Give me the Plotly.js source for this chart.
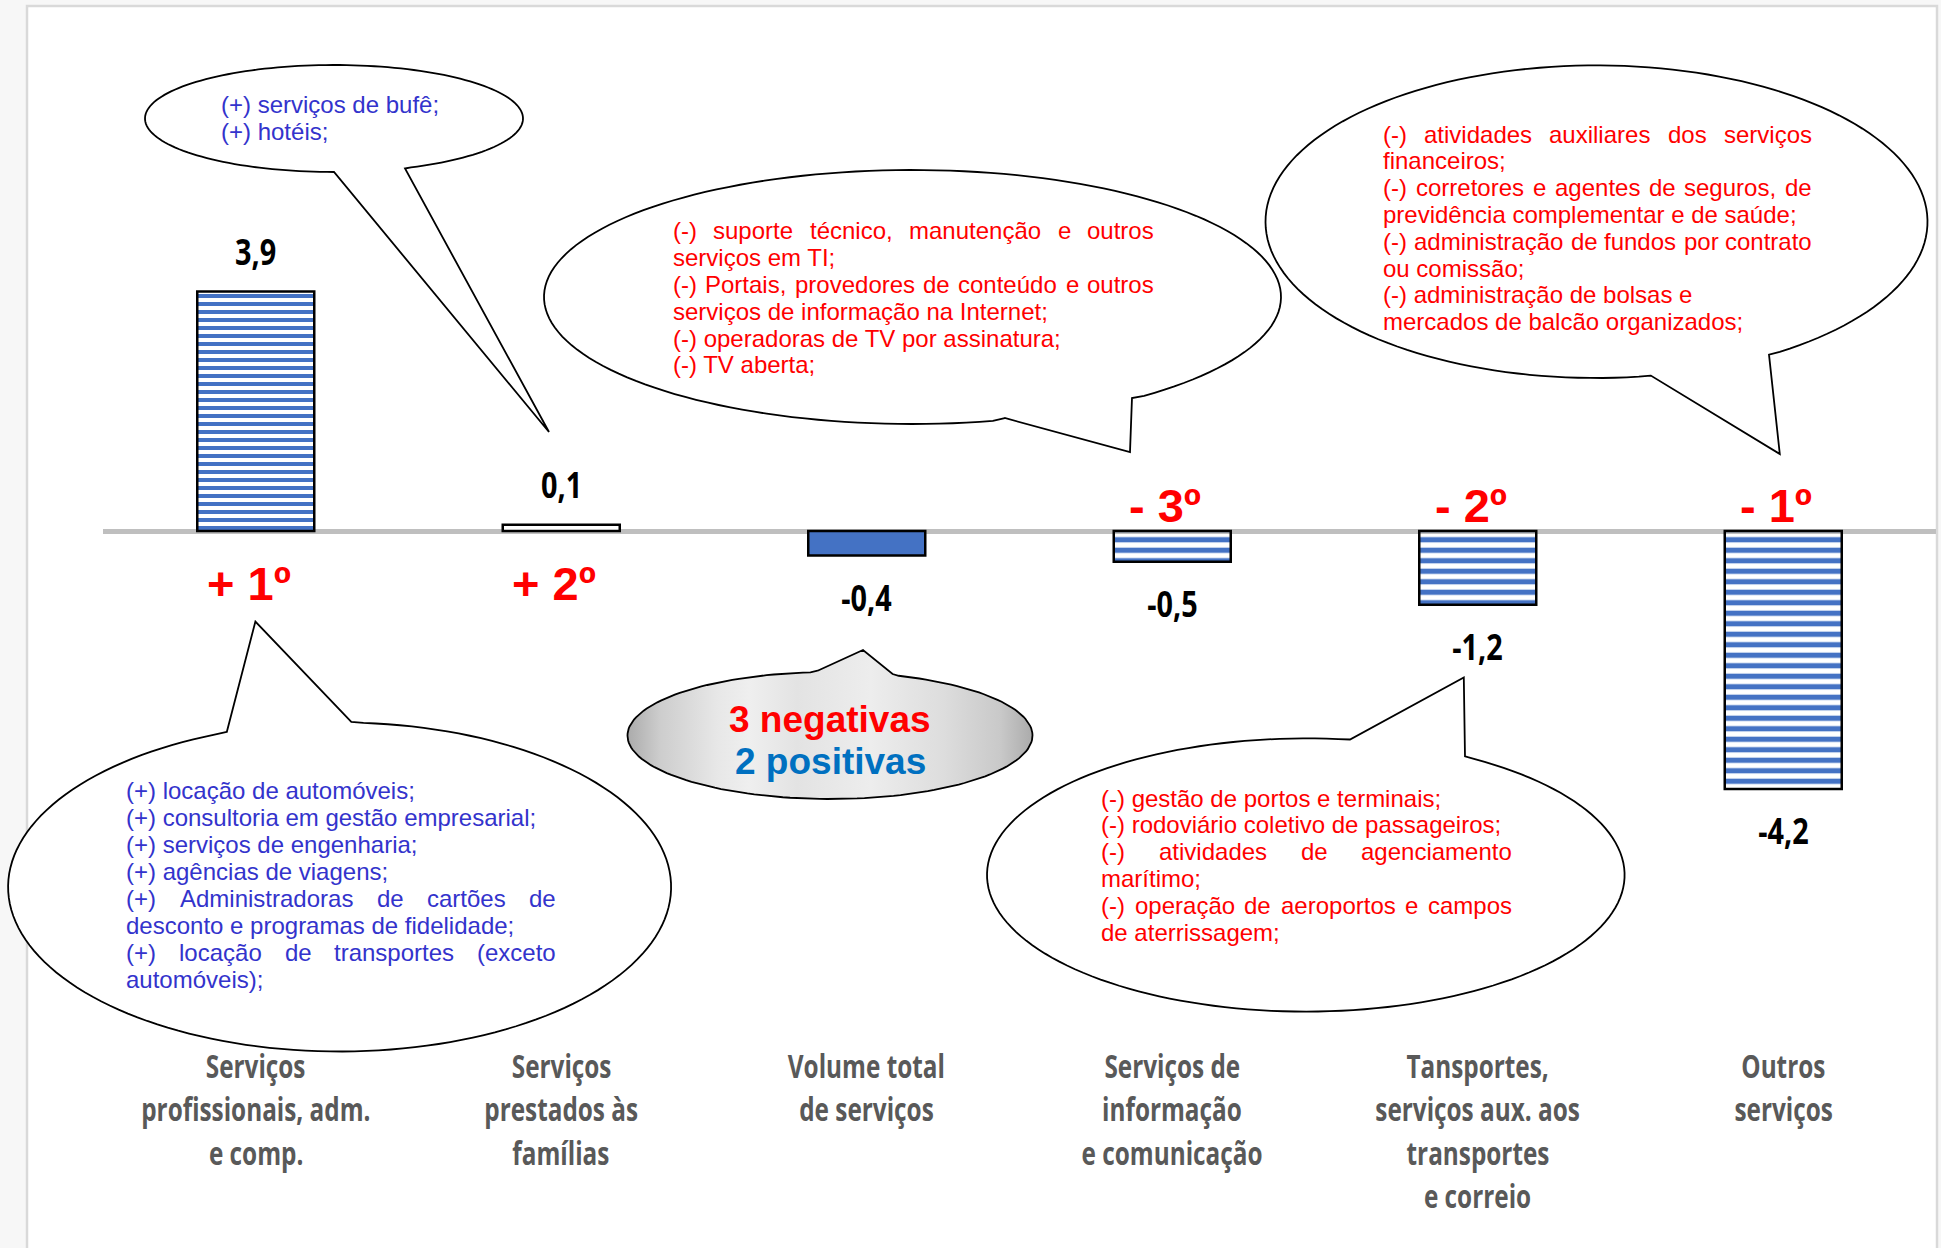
<!DOCTYPE html>
<html>
<head>
<meta charset="utf-8">
<script src="https://cdn.plot.ly/plotly-3.0.1.min.js"></script>
<style>
  html, body { margin: 0; padding: 0; background: #f7f7f7; }
  #chart { width: 1941px; height: 1248px; }
</style>
</head>
<body>
<div id="chart"></div>
<script>
// data
var categories = [
    'Serviços<br>profissionais, adm.<br>e comp.',
    'Serviços<br>prestados às<br>famílias',
    'Volume total<br>de serviços',
    'Serviços de<br>informação<br>e comunicação',
    'Tansportes,<br>serviços aux. aos<br>transportes<br>e correio',
    'Outros<br>serviços'
];
var values = [3.9, 0.1, -0.4, -0.5, -1.2, -4.2];
var ranks = ['+ 1º', '+ 2º', '', '- 3º', '- 2º', '- 1º'];

var notesBufe = ['(+) serviços de bufê;', '(+) hotéis;'];
var notesInfo = [
    '(-) suporte técnico, manutenção e outros',
    'serviços em TI;',
    '(-) Portais, provedores de conteúdo e outros',
    'serviços de informação na Internet;',
    '(-) operadoras de TV por assinatura;',
    '(-) TV aberta;'
];
var notesOutros = [
    '(-) atividades auxiliares dos serviços',
    'financeiros;',
    '(-) corretores e agentes de seguros, de',
    'previdência complementar e de saúde;',
    '(-) administração de fundos por contrato',
    'ou comissão;',
    '(-) administração de bolsas e',
    'mercados de balcão organizados;'
];
var notesProf = [
    '(+) locação de automóveis;',
    '(+) consultoria em gestão empresarial;',
    '(+) serviços de engenharia;',
    '(+) agências de viagens;',
    '(+) Administradoras de cartões de',
    'desconto e programas de fidelidade;',
    '(+) locação de transportes (exceto',
    'automóveis);'
];
var notesTransp = [
    '(-) gestão de portos e terminais;',
    '(-) rodoviário coletivo de passageiros;',
    '(-) atividades de agenciamento',
    'marítimo;',
    '(-) operação de aeroportos e campos',
    'de aterrissagem;'
];
var summary = ['3 negativas', '2 positivas'];

// plot box in page pixels
var L = 103, T = 20, W = 1833, H = 1030;
var zeroPx = 531, pxPerUnit = 61.4;
var yTop = (zeroPx - T) / pxPerUnit;
var yBot = -(T + H - zeroPx) / pxPerUnit;

function px2x(px) { return (px - L) / W; }
function py2y(py) { return (T + H - py) / H; }

var condensed = 'Open Sans, Liberation Sans, sans-serif';
var arial = 'Liberation Sans, Arial, sans-serif';
var BLUE_TXT = '#3333CC', RED = '#FF0000';

var annotations = [];
var shapes = [];
var squeeze = {};   // annotation index -> horizontal squeeze factor

// frame
shapes.push({
    type: 'rect', xref: 'paper', yref: 'paper', layer: 'below',
    x0: px2x(27), x1: px2x(1937), y0: py2y(6), y1: py2y(1320),
    fillcolor: 'white', line: {color: '#D9D9D9', width: 2.5}
});

// category labels, one annotation per line
categories.forEach(function (c, i) {
    c.split('<br>').forEach(function (line, k) {
        squeeze[annotations.length] = 0.76;
        annotations.push({
            x: i, xref: 'x', y: py2y(1065 + 43.5 * k), yref: 'paper',
            text: line, showarrow: false, xanchor: 'center', yanchor: 'middle',
            font: {family: condensed, size: 32, color: '#595959', weight: 'bold'}
        });
    });
});

// value labels and ranks
values.forEach(function (v, i) {
    squeeze[annotations.length] = 0.8;
    annotations.push({
        x: i, xref: 'x', y: v, yref: 'y',
        text: v.toFixed(1).replace('.', ','), showarrow: false,
        xanchor: 'center', yanchor: 'middle', yshift: v >= 0 ? 40 : -42,
        font: {family: condensed, size: 36, color: '#000', weight: 'bold'}
    });
    if (ranks[i]) {
        annotations.push({
            x: i, xref: 'x', y: 0, yref: 'y', xshift: -7,
            text: ranks[i], showarrow: false,
            xanchor: 'center', yanchor: 'middle', yshift: v >= 0 ? -52 : 26,
            font: {family: arial, size: 47, color: RED, weight: 'bold'}
        });
    }
});

// bubble text, justified lines split into words
var ctx = document.createElement('canvas').getContext('2d');
ctx.font = '24px "Liberation Sans"';
function textBlock(lines, just, left, width, top, step, color) {
    lines.forEach(function (line, k) {
        var y = py2y(top + step * k);
        var font = {family: arial, size: 24, color: color};
        if (just.indexOf(k) < 0) {
            annotations.push({x: px2x(left), xref: 'paper', y: y, yref: 'paper', text: line,
                showarrow: false, xanchor: 'left', yanchor: 'middle', borderpad: 0, font: font});
            return;
        }
        var words = line.split(' ');
        var ws = words.map(function (w) { return ctx.measureText(w).width; });
        var total = ws.reduce(function (a, b) { return a + b; }, 0);
        var gap = (width - total) / (words.length - 1);
        var x = left;
        words.forEach(function (w, i) {
            annotations.push({x: px2x(x), xref: 'paper', y: y, yref: 'paper', text: w,
                showarrow: false, xanchor: 'left', yanchor: 'middle', borderpad: 0, font: font});
            x += ws[i] + gap;
        });
    });
}
textBlock(notesBufe, [], 220, 220, 104, 27, BLUE_TXT);
textBlock(notesInfo, [0, 2], 672, 481, 231, 26.8, RED);
textBlock(notesOutros, [0, 2, 4], 1382, 429, 134, 26.8, RED);
textBlock(notesProf, [4, 6], 125, 430, 790, 27, BLUE_TXT);
textBlock(notesTransp, [2, 4], 1100, 411, 798, 26.8, RED);

// speech bubbles: ellipse + tail, in page pixels
function bubblePoints(b) {
    var ang = function (p) { return Math.atan2((p[1] - b.cy) / b.ry, (p[0] - b.cx) / b.rx); };
    var norm = function (a) { a = a % (2 * Math.PI); return a < 0 ? a + 2 * Math.PI : a; };
    var a1 = ang(b.a), a2 = ang(b.b), at = ang(b.tip);
    var ccw = norm(a2 - a1);
    var span = norm(at - a1) < ccw ? -(2 * Math.PI - ccw) : ccw;
    var pts = [b.a];
    var n = 160;
    for (var i = 1; i < n; i++) {
        var t = a1 + span * i / n;
        pts.push([b.cx + b.rx * Math.cos(t), b.cy + b.ry * Math.sin(t)]);
    }
    pts.push(b.b, b.tip);
    return pts;
}
var bubbles = [
    {cx: 334, cy: 118.5, rx: 189, ry: 53.5, a: [334, 172], b: [405, 168.5], tip: [549, 432]},
    {cx: 912.5, cy: 297, rx: 368.5, ry: 127, a: [1004.7, 418], b: [1132, 398], tip: [1130, 452]},
    {cx: 1596.5, cy: 221.7, rx: 331, ry: 156.3, a: [1650.8, 375.6], b: [1769, 354.6], tip: [1779.8, 454]},
    {cx: 339.6, cy: 887, rx: 331.5, ry: 164.5, a: [226.8, 731.9], b: [351.3, 722], tip: [255.4, 621.6]},
    {cx: 1305.8, cy: 875, rx: 318.8, ry: 136.6, a: [1350, 739.5], b: [1465, 756.4], tip: [1463.8, 677.4]}
];
bubbles.forEach(function (b) {
    var pts = bubblePoints(b);
    var path = 'M' + pts.map(function (p) {
        return px2x(p[0]).toFixed(5) + ',' + py2y(p[1]).toFixed(5);
    }).join('L') + 'Z';
    shapes.push({type: 'path', xref: 'paper', yref: 'paper', layer: 'above', path: path,
        fillcolor: 'white', line: {color: 'black', width: 1.8}});
});

// gray summary bubble with gradient fill, drawn on a pixel overlay axis
var gray = bubblePoints({cx: 830, cy: 735.5, rx: 202.5, ry: 63.5, a: [817.6, 670.7], b: [892.6, 674], tip: [863, 650]});
gray.push(gray[0]);
var grayTrace = {
    type: 'scatter', mode: 'lines', xaxis: 'x2', yaxis: 'y2',
    x: gray.map(function (p) { return p[0]; }),
    y: gray.map(function (p) { return p[1]; }),
    fill: 'toself', hoverinfo: 'skip', showlegend: false,
    line: {color: 'black', width: 1.8},
    fillgradient: {type: 'horizontal', colorscale: [
        [0, '#ababab'], [0.08, '#cdcdcd'], [0.22, '#e7e7e7'], [0.3, '#efefef'],
        [0.42, '#e3e3e3'], [0.6, '#ededed'], [0.78, '#dddddd'], [0.92, '#c9c9c9'], [1, '#ababab']
    ]}
};
annotations.push({x: px2x(830), xref: 'paper', y: py2y(719), yref: 'paper', text: summary[0],
    showarrow: false, xanchor: 'center', yanchor: 'middle',
    font: {family: arial, size: 37, color: RED, weight: 'bold'}});
annotations.push({x: px2x(830), xref: 'paper', y: py2y(761), yref: 'paper', text: summary[1],
    showarrow: false, xanchor: 'center', yanchor: 'middle',
    font: {family: arial, size: 37, color: '#0070C0', weight: 'bold'}});

var STRIPE = '#4472C4';
var barTrace = {
    type: 'bar', x: categories, y: values, width: 0.383, hoverinfo: 'skip', showlegend: false,
    marker: {
        color: [STRIPE, '#FFFFFF', STRIPE, STRIPE, STRIPE, STRIPE],
        line: {color: '#000000', width: 2.5},
        pattern: {
            shape: ['-', '', '', '-', '-', '-'],
            fillmode: 'replace',
            fgcolor: [STRIPE, '#FFFFFF', STRIPE, STRIPE, STRIPE, STRIPE],
            bgcolor: ['#DAE3F3', '#FFFFFF', STRIPE, '#FFFFFF', '#FFFFFF', '#DAE3F3'],
            fgopacity: 1,
            size: [8, 8, 8, 10.5, 10.5, 10.5], solidity: 0.5
        }
    }
};

var layout = {
    width: 1941, height: 1248,
    margin: {l: L, r: 1941 - L - W, t: T, b: 1248 - T - H},
    paper_bgcolor: '#F7F7F7', plot_bgcolor: 'rgba(0,0,0,0)',
    showlegend: false,
    xaxis: {range: [-0.5, 5.5], showticklabels: false, showgrid: false, zeroline: false,
        showline: false, ticks: ''},
    yaxis: {range: [yBot, yTop], showticklabels: false, showgrid: false, zeroline: true,
        zerolinecolor: '#BFBFBF', zerolinewidth: 5, showline: false, ticks: ''},
    xaxis2: {overlaying: 'x', anchor: 'y2', range: [L, L + W], visible: false},
    yaxis2: {overlaying: 'y', anchor: 'x2', range: [T + H, T], visible: false},
    shapes: shapes,
    annotations: annotations
};

var gd = document.getElementById('chart');
Plotly.newPlot(gd, [barTrace, grayTrace], layout, {displayModeBar: false, staticPlot: true})
    .then(function () {
        // the labels use a condensed face in the original: squeeze them horizontally
        gd.querySelectorAll('.annotation').forEach(function (g) {
            var f = squeeze[+g.getAttribute('data-index')];
            if (!f) return;
            var t = g.querySelector('text.annotation-text');
            if (!t) return;
            t.setAttribute('textLength', (t.getComputedTextLength() * f).toFixed(1));
            t.setAttribute('lengthAdjust', 'spacingAndGlyphs');
        });
    });
</script>
</body>
</html>
